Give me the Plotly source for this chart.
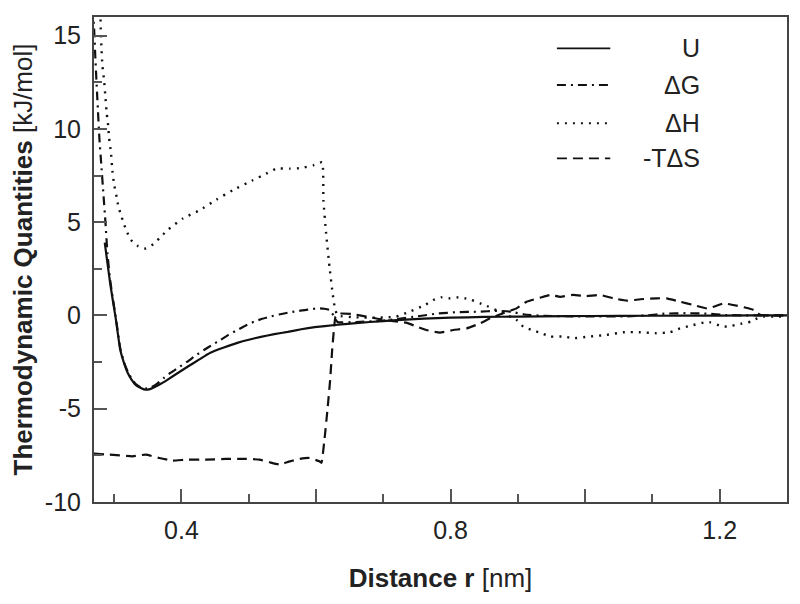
import plotly.graph_objects as go

# ---------------- data ----------------
u_x = [0.286, 0.290, 0.294, 0.298, 0.302, 0.309, 0.315, 0.320, 0.326, 0.332, 0.339, 0.346,
       0.353, 0.361, 0.370, 0.379, 0.394, 0.409, 0.426, 0.443, 0.463, 0.483, 0.500, 0.518,
       0.538, 0.558, 0.578, 0.598, 0.628, 0.647, 0.68, 0.72, 0.76, 0.80, 0.85, 0.90, 0.97,
       1.05, 1.15, 1.25, 1.30]
u_y = [3.9, 2.8, 1.74, 0.8, -0.08, -1.84, -2.6, -3.07, -3.45, -3.72, -3.88, -3.98,
       -3.95, -3.82, -3.65, -3.45, -3.1, -2.75, -2.37, -2.0, -1.72, -1.47, -1.3, -1.15,
       -1.0, -0.88, -0.74, -0.63, -0.51, -0.45, -0.35, -0.25, -0.17, -0.12, -0.08, -0.06, -0.04,
       -0.02, -0.01, 0.0, 0.0]

dg_x = [0.268, 0.270, 0.272, 0.275, 0.278, 0.281, 0.284, 0.287, 0.290, 0.294, 0.298, 0.302,
        0.309, 0.315, 0.320, 0.326, 0.332, 0.339, 0.346, 0.355, 0.364, 0.374, 0.384, 0.396,
        0.409, 0.421, 0.434, 0.446, 0.458, 0.470, 0.483, 0.495, 0.508, 0.520, 0.532, 0.545,
        0.558, 0.570, 0.583, 0.593, 0.602, 0.612, 0.620, 0.626, 0.632, 0.66, 0.69, 0.72, 0.75,
        0.78, 0.81, 0.84, 0.87, 0.89, 0.91, 0.94, 0.98, 1.02, 1.06, 1.09, 1.12, 1.15, 1.18,
        1.21, 1.25, 1.30]
dg_y = [16.5, 15.5, 13.8, 11.6, 9.5, 8.0, 6.5, 5.0, 3.3, 1.9, 0.9, 0.0,
        -1.75, -2.55, -3.0, -3.4, -3.68, -3.85, -3.92, -3.85, -3.65, -3.35, -3.07, -2.78,
        -2.47, -2.15, -1.84, -1.57, -1.31, -1.04, -0.78, -0.55, -0.33, -0.18, -0.06, 0.05,
        0.15, 0.22, 0.29, 0.34, 0.38, 0.36, 0.3, 0.0, -0.35, -0.35, -0.3, -0.2, -0.05,
        0.1, 0.18, 0.2, 0.25, 0.2, 0.05, -0.02, -0.05, -0.05, -0.05, 0.0, 0.1, 0.12, 0.1,
        0.02, 0.0, 0.0]

dh_x = [0.2795, 0.280, 0.281, 0.2825, 0.285, 0.287, 0.289, 0.291, 0.2925, 0.295, 0.2975,
        0.300, 0.304, 0.306, 0.310, 0.314, 0.319, 0.325, 0.335, 0.347, 0.358, 0.367, 0.379,
        0.402, 0.427, 0.452, 0.476, 0.506, 0.526, 0.541, 0.561, 0.578, 0.596, 0.609, 0.611,
        0.615, 0.620, 0.625, 0.628, 0.632, 0.66, 0.69, 0.705, 0.719, 0.739, 0.762, 0.774,
        0.786, 0.799, 0.809, 0.821, 0.831, 0.844, 0.854, 0.873, 0.898, 0.908, 0.923, 0.933,
        0.948, 0.968, 0.982, 1.007, 1.032, 1.057, 1.082, 1.106, 1.126, 1.141, 1.156, 1.176,
        1.186, 1.201, 1.211, 1.231, 1.246, 1.256, 1.266, 1.281, 1.30]
dh_y = [16.3, 15.4, 14.4, 13.4, 12.6, 11.7, 10.8, 10.2, 9.5, 8.8, 7.7,
        7.0, 6.3, 5.87, 5.4, 4.95, 4.48, 4.04, 3.73, 3.59, 3.82, 4.13, 4.57,
        5.2, 5.64, 6.21, 6.71, 7.25, 7.6, 7.87, 7.87, 7.9, 8.05, 8.22, 6.18,
        4.4, 2.6, 1.1, 0.4, 0.0, -0.1, -0.12, -0.1, -0.06, 0.2, 0.56, 0.83,
        0.97, 0.92, 0.97, 0.92, 0.83, 0.65, 0.51, 0.2, -0.24, -0.6, -0.81, -0.92,
        -1.13, -1.13, -1.22, -1.13, -1.04, -0.9, -0.9, -0.95, -0.9, -0.69, -0.56, -0.38,
        -0.37, -0.56, -0.6, -0.45, -0.33, -0.15, -0.06, -0.06, -0.06]

ts_x = [0.27, 0.293, 0.327, 0.347, 0.367, 0.387, 0.407, 0.437, 0.466, 0.496, 0.516, 0.531,
        0.546, 0.561, 0.576, 0.590, 0.605, 0.608, 0.612, 0.617, 0.621, 0.624, 0.627, 0.629,
        0.635, 0.655, 0.675, 0.695, 0.715, 0.735, 0.750, 0.764, 0.784, 0.804, 0.824, 0.844,
        0.859, 0.878, 0.898, 0.913, 0.933, 0.948, 0.963, 0.982, 1.002, 1.022, 1.042, 1.062,
        1.082, 1.106, 1.121, 1.141, 1.161, 1.181, 1.191, 1.206, 1.22, 1.236, 1.251, 1.26,
        1.28, 1.30]
ts_y = [-7.41, -7.46, -7.55, -7.46, -7.64, -7.78, -7.73, -7.73, -7.69, -7.69, -7.73, -7.87,
        -7.99, -7.82, -7.69, -7.64, -7.82, -7.9, -6.84, -5.05, -3.45, -1.84, -0.6, -0.06,
        0.1, 0.07, -0.06, -0.2, -0.3, -0.4, -0.6, -0.78, -0.92, -0.78, -0.69, -0.42,
        -0.15, 0.12, 0.38, 0.74, 0.95, 1.1, 1.0, 1.1, 1.04, 1.1, 0.92, 0.79,
        0.87, 0.92, 0.92, 0.74, 0.56, 0.38, 0.47, 0.65, 0.56, 0.44, 0.29, 0.03,
        0.0, 0.0]

series_names = ["U", "\u0394G", "\u0394H", "-T\u0394S"]
x_tick_vals = [0.4, 0.6, 0.8, 1.0, 1.2]
x_tick_text = ["0.4", "", "0.8", "", "1.2"]
x_minor_vals = [0.3, 0.5, 0.7, 0.9, 1.1]
y_tick_vals = [-10, -5, 0, 5, 10, 15]
y_tick_text = ["-10", "-5", "0", "5", "10", "15"]
y_minor_vals = [-7.5, -2.5, 2.5, 7.5, 12.5]

# ---------------- styles ----------------
FONT = "Liberation Sans, Arial, sans-serif"
styles = [
    dict(color="#111", width=2.2, dash="solid"),
    dict(color="#111", width=2.2, dash="9px,5px,2px,5px"),
    dict(color="#111", width=2.4, dash="2px,6px"),
    dict(color="#111", width=2.2, dash="10px,6px"),
]

fig = go.Figure()
for name, xs, ys, st in zip(series_names, [u_x, dg_x, dh_x, ts_x], [u_y, dg_y, dh_y, ts_y], styles):
    fig.add_trace(go.Scatter(x=xs, y=ys, mode="lines", name=name, line=st,
                             line_shape="spline", line_smoothing=0.4, showlegend=False))

# hand-drawn legend (lines + right-aligned labels), as in the original
leg_rows_y = [0.9355, 0.8598, 0.7808, 0.7087]
for name, st, yy in zip(series_names, styles, leg_rows_y):
    fig.add_shape(type="line", xref="paper", yref="paper", x0=0.668, x1=0.745, y0=yy, y1=yy,
                  line=dict(color=st["color"], width=st["width"] - 0.4, dash=st["dash"]))
    fig.add_annotation(xref="paper", yref="paper", x=0.877, y=yy, text=name, showarrow=False,
                       xanchor="right", yanchor="middle",
                       font=dict(family=FONT, size=25, color="#222"))

axis_common = dict(showgrid=False, zeroline=False, showline=True, linecolor="#444",
                   linewidth=2, mirror=True, ticks="inside", ticklen=13, tickwidth=1.5,
                   tickcolor="#555", automargin=False,
                   tickfont=dict(family=FONT, size=25, color="#222"))

fig.update_xaxes(range=[0.27, 1.30], tickmode="array", tickvals=x_tick_vals, ticktext=x_tick_text,
                 minor=dict(tickmode="array", tickvals=x_minor_vals, ticks="inside", ticklen=8,
                            tickwidth=1.5, tickcolor="#555"),
                 ticklabelstandoff=5,
                 title=dict(text="<b>Distance r</b> [nm]", standoff=26,
                            font=dict(family=FONT, size=26, color="#222")),
                 **axis_common)
fig.update_yaxes(range=[-10, 16], tickmode="array", tickvals=y_tick_vals, ticktext=y_tick_text,
                 minor=dict(tickmode="array", tickvals=y_minor_vals, ticks="inside", ticklen=8,
                            tickwidth=1.5, tickcolor="#555"),
                 ticklabelstandoff=6,
                 title=dict(text="<b>Thermodynamic Quantities</b> [kJ/mol]", standoff=5,
                            font=dict(family=FONT, size=26, color="#222")),
                 **axis_common)

# page body has an 8px default margin, so margins are offset to land the plot where the original has it
fig.update_layout(width=800, height=604, margin=dict(l=86, r=21, t=9, b=110),
                  paper_bgcolor="white", plot_bgcolor="white",
                  font=dict(family=FONT, size=22, color="#222"))

fig.write_html("out.html")
